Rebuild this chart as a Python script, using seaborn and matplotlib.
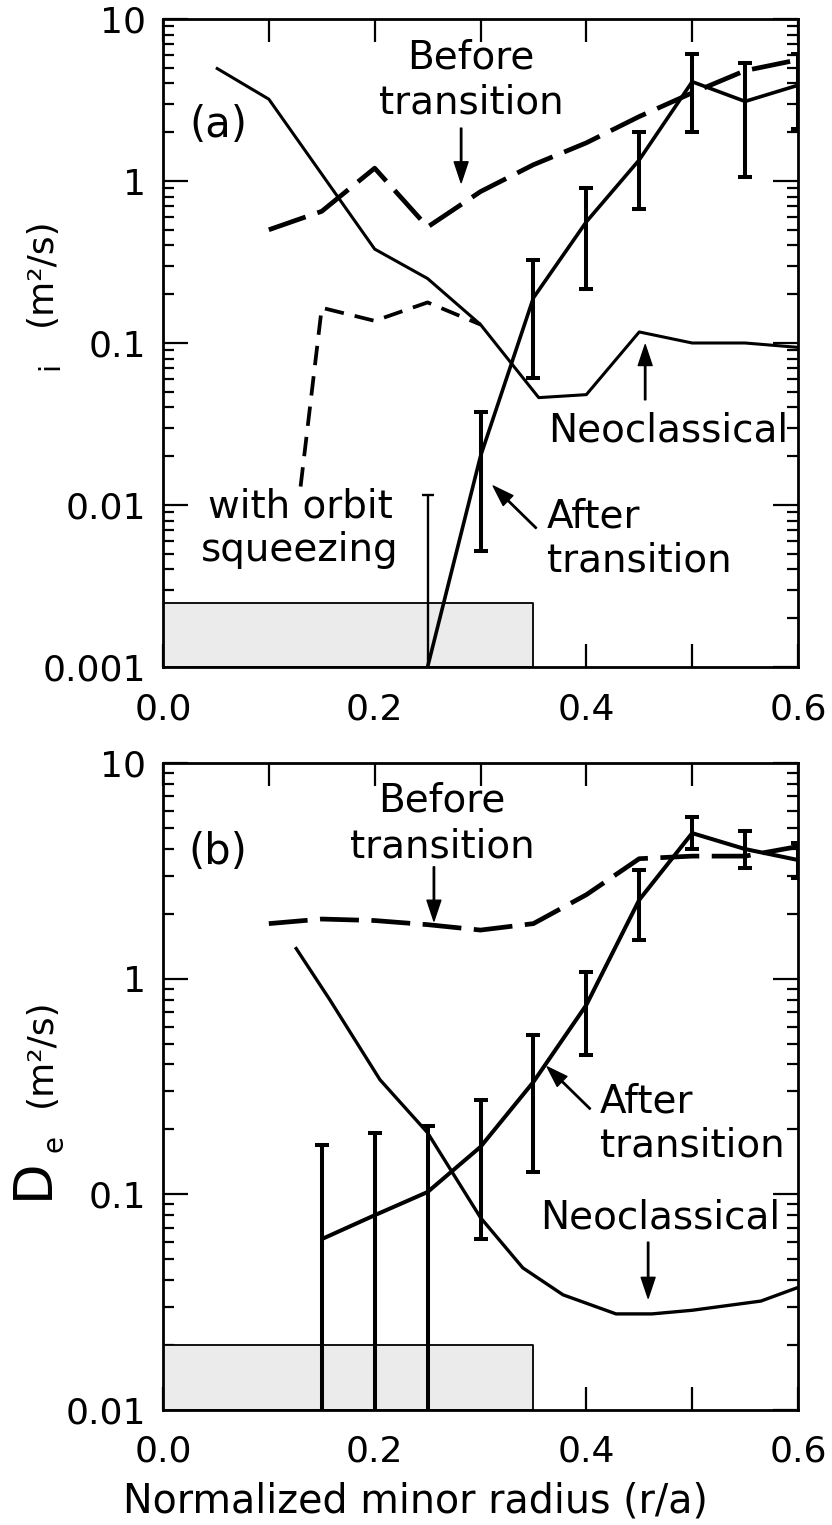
import numpy as np
import matplotlib
matplotlib.use("Agg")
import matplotlib.pyplot as plt
import seaborn as sns
from matplotlib.ticker import (FixedLocator, FixedFormatter, MultipleLocator,
                               LogLocator, NullFormatter)

# ---------------- data : panel (a) chi_i ----------------
a_neo_x = [0.05, 0.10, 0.20, 0.25, 0.30, 0.355, 0.40, 0.45, 0.50, 0.55, 0.60]
a_neo_y = [5.0, 3.2, 0.38, 0.25, 0.13, 0.046, 0.048, 0.117, 0.100, 0.100, 0.094]

a_before_x = [0.10, 0.15, 0.20, 0.25, 0.30, 0.35, 0.40, 0.45, 0.50, 0.55, 0.60]
a_before_y = [0.50, 0.65, 1.20, 0.52, 0.86, 1.26, 1.72, 2.5, 3.5, 4.8, 5.6]

a_squeeze_x = [0.13, 0.15, 0.20, 0.25, 0.30]
a_squeeze_y = [0.013, 0.165, 0.137, 0.178, 0.13]

a_after_x = [0.25, 0.30, 0.35, 0.40, 0.45, 0.50, 0.55, 0.60]
a_after_y = [0.001, 0.020, 0.19, 0.56, 1.35, 4.1, 3.1, 3.9]
a_after_lo = [0.0005, 0.0052, 0.061, 0.215, 0.67, 2.0, 1.06, 2.1]
a_after_hi = [0.0115, 0.0375, 0.325, 0.905, 2.0, 6.1, 5.35, 6.1]

a_box_x = [0.0, 0.35]
a_box_top = 0.0025

# ---------------- data : panel (b) D_e ----------------
b_neo_x = [0.125, 0.1575, 0.205, 0.25, 0.30, 0.34, 0.378, 0.428, 0.462, 0.50, 0.565, 0.60]
b_neo_y = [1.40, 0.80, 0.34, 0.193, 0.078, 0.0456, 0.0342, 0.0279, 0.0279, 0.029, 0.032, 0.037]

b_before_x = [0.10, 0.15, 0.20, 0.25, 0.30, 0.35, 0.40, 0.45, 0.50, 0.55, 0.60]
b_before_y = [1.80, 1.89, 1.86, 1.78, 1.68, 1.80, 2.45, 3.6, 3.7, 3.7, 4.1]

b_after_x = [0.15, 0.20, 0.25, 0.30, 0.35, 0.40, 0.45, 0.50, 0.55, 0.60]
b_after_y = [0.062, 0.080, 0.1025, 0.166, 0.332, 0.755, 2.32, 4.73, 3.99, 3.55]
b_after_lo = [0.005, 0.005, 0.005, 0.062, 0.127, 0.443, 1.51, 3.99, 3.26, 2.93]
b_after_hi = [0.17, 0.193, 0.207, 0.274, 0.55, 1.07, 3.19, 5.62, 4.84, 4.26]

b_box_x = [0.0, 0.35]
b_box_top = 0.02

# ---------------- ticks ----------------
x_ticks = [0.0, 0.2, 0.4, 0.6]
x_ticklabels = ["0.0", "0.2", "0.4", "0.6"]
a_yticks = [0.001, 0.01, 0.1, 1, 10]
a_yticklabels = ["0.001", "0.01", "0.1", "1", "10"]
b_yticks = [0.01, 0.1, 1, 10]
b_yticklabels = ["0.01", "0.1", "1", "10"]

sns.set_style("ticks")
plt.rcParams["font.family"] = ["DejaVu Sans"]
plt.rcParams["lines.scale_dashes"] = False
plt.rcParams["lines.solid_capstyle"] = "butt"
for key in ["text.color", "axes.labelcolor", "xtick.color", "ytick.color",
            "axes.edgecolor"]:
    plt.rcParams[key] = "black"

W, H = 832, 1525
fig = plt.figure(figsize=(W / 100, H / 100), dpi=100)
axA = fig.add_axes([163 / W, 1 - 667 / H, 635 / W, 648 / H])
axB = fig.add_axes([163 / W, 1 - 1410 / H, 635 / W, 647 / H])

TICK_FS = 26
TXT_FS = 28


def style(ax, ylim, yticks, ylabels):
    ax.set_yscale("log")
    ax.set_xlim(0, 0.6)
    ax.set_ylim(*ylim)
    ax.xaxis.set_major_locator(FixedLocator(x_ticks))
    ax.xaxis.set_major_formatter(FixedFormatter(x_ticklabels))
    ax.xaxis.set_minor_locator(MultipleLocator(0.1))
    ax.yaxis.set_major_locator(FixedLocator(yticks))
    ax.yaxis.set_major_formatter(FixedFormatter(ylabels))
    ax.yaxis.set_minor_locator(LogLocator(base=10, subs=np.arange(2, 10), numticks=30))
    ax.yaxis.set_minor_formatter(NullFormatter())
    ax.tick_params(which="both", direction="in", top=True, right=True,
                   width=1.6, color="k", labelsize=TICK_FS, labelcolor="k")
    ax.tick_params(axis="x", which="both", length=16.5, pad=18)
    ax.tick_params(axis="y", which="major", length=18, pad=12)
    ax.tick_params(axis="y", which="minor", length=8)
    for s in ax.spines.values():
        s.set_linewidth(2.0)
        s.set_color("k")
    ax.set_xlabel("")
    ax.set_ylabel("")


def line(ax, x, y, lw, dashes=None):
    sns.lineplot(x=x, y=y, ax=ax, color="k", linewidth=lw, sort=False,
                 estimator=None, zorder=3)
    ln = ax.lines[-1]
    if dashes is not None:
        ln.set_dashes(dashes)
        ln.set_dash_capstyle("butt")
    return ln


def errbars(ax, x, y, lo, hi, lw, cap):
    y = np.asarray(y)
    err = [y - np.asarray(lo), np.asarray(hi) - y]
    ax.errorbar(x, y, yerr=err, fmt="none", ecolor="k", elinewidth=lw,
                capsize=cap, capthick=lw, zorder=4)


def arrow(ax, tip, tail):
    ax.annotate("", xy=tip, xytext=tail, xycoords="data", textcoords="data",
                arrowprops=dict(facecolor="k", edgecolor="k", width=1.0,
                                headwidth=10, headlength=15, shrink=0))


# ---------------- panel (a) ----------------
style(axA, (0.001, 10), a_yticks, a_yticklabels)
axA.fill_between(a_box_x, 0.001, a_box_top, facecolor="#ebebeb",
                 edgecolor="k", linewidth=1.3, zorder=1)
line(axA, a_neo_x, a_neo_y, 2.2)
line(axA, a_before_x, a_before_y, 3.4, dashes=[28, 9])
line(axA, a_squeeze_x, a_squeeze_y, 2.7, dashes=[14, 8])
line(axA, a_after_x, a_after_y, 2.6)
errbars(axA, a_after_x[:1], a_after_y[:1], a_after_lo[:1], a_after_hi[:1], 1.7, 4)
errbars(axA, a_after_x[1:], a_after_y[1:], a_after_lo[1:], a_after_hi[1:], 2.9, 5)

axA.text(0.052, 2.22, "(a)", fontsize=30, ha="center", va="center")
axA.text(0.291, 4.2, "Before\ntransition", fontsize=TXT_FS, ha="center",
         va="center", linespacing=1.25)
arrow(axA, (0.2817, 0.977), (0.2817, 2.12))
axA.text(0.477, 0.029, "Neoclassical", fontsize=TXT_FS, ha="center", va="center")
arrow(axA, (0.4556, 0.0976), (0.4556, 0.0446))
axA.text(0.1295, 0.0072, "with orbit\nsqueezing", fontsize=TXT_FS, ha="center",
         va="center", linespacing=1.18)
axA.text(0.363, 0.0062, "After\ntransition", fontsize=TXT_FS, ha="left",
         va="center", linespacing=1.18)
arrow(axA, (0.312, 0.0131), (0.3526, 0.0072))

# ---------------- panel (b) ----------------
style(axB, (0.01, 10), b_yticks, b_yticklabels)
axB.fill_between(b_box_x, 0.01, b_box_top, facecolor="#ebebeb",
                 edgecolor="k", linewidth=1.3, zorder=1)
line(axB, b_neo_x, b_neo_y, 2.4)
line(axB, b_before_x, b_before_y, 3.4, dashes=[28, 9])
line(axB, b_after_x, b_after_y, 2.9)
errbars(axB, b_after_x, b_after_y, b_after_lo, b_after_hi, 2.9, 5)

axB.text(0.052, 3.87, "(b)", fontsize=30, ha="center", va="center")
axB.text(0.2637, 5.24, "Before\ntransition", fontsize=TXT_FS, ha="center",
         va="center", linespacing=1.25)
arrow(axB, (0.256, 1.85), (0.256, 3.30))
axB.text(0.413, 0.213, "After\ntransition", fontsize=TXT_FS, ha="left",
         va="center", linespacing=1.18)
arrow(axB, (0.363, 0.39), (0.4036, 0.249))
axB.text(0.47, 0.0778, "Neoclassical", fontsize=TXT_FS, ha="center", va="center")
arrow(axB, (0.4584, 0.033), (0.4584, 0.060))

# ---------------- axis labels ----------------
fig.text(41 / W, 1 - 272 / H, "(m²/s)", rotation=90, fontsize=26,
         ha="center", va="center")
fig.text(50 / W, 1 - 366 / H, "i", rotation=90, fontsize=21,
         ha="center", va="center")
fig.text(41 / W, 1 - 1053 / H, "(m²/s)", rotation=90, fontsize=26,
         ha="center", va="center")
fig.text(55 / W, 1 - 1143 / H, "e", rotation=90, fontsize=20,
         ha="center", va="center")
fig.text(33 / W, 1 - 1179 / H, "D", rotation=90, fontsize=38,
         ha="center", va="center")
fig.text(415 / W, 1 - 1502 / H, "Normalized minor radius (r/a)", fontsize=28.5,
         ha="center", va="center")

fig.savefig("out.png", dpi=100, facecolor="white")
